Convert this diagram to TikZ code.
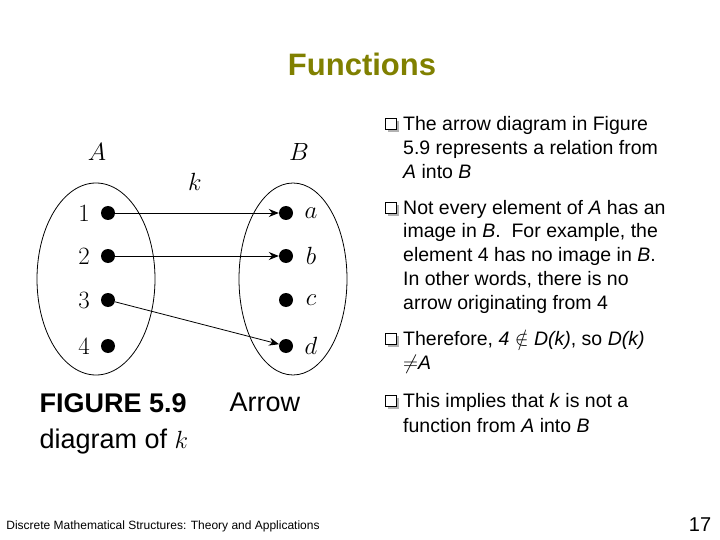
\documentclass[tikz,border=0pt]{standalone}
\usepackage{fontspec}
\usepackage{amssymb}
\setsansfont{Liberation Sans}
\usetikzlibrary{arrows.meta}
\definecolor{olive}{RGB}{128,128,0}
\begin{document}
\begin{tikzpicture}[x=1pt,y=-1pt,
  dot/.style={circle,fill=black,inner sep=0pt,minimum size=14pt},
  lab/.style={font=\fontsize{26}{28}\selectfont},
  txt/.style={anchor=west,inner sep=0pt,font=\sffamily\fontsize{19.5}{22}\selectfont},
  conn/.style={-{Stealth[length=10pt,width=8pt]},thick}]
\useasboundingbox (0,0) rectangle (720,540);
\node[font=\sffamily\bfseries\fontsize{31}{33}\selectfont,text=olive] (title) at (362,64) {Functions};
% figure
\draw[thick] (96,279) ellipse (59 and 96);
\draw[thick] (293,279) ellipse (54 and 96);
\node[lab] (lA) at (97,152) {$A$};
\node[lab] (lB) at (299,152) {$B$};
\node[lab] (lk) at (195,182) {$k$};
\foreach \i/\y in {1/213,2/256,3/300,4/346}{
  \node[dot] (p\i) at (108,\y) {};
  \node[lab] (n\i) at (84,\y) {$\i$};
}
\foreach \c/\y in {a/213,b/256,c/300,d/346}{
  \node[dot] (q\c) at (286,\y) {};
  \node[lab] (m\c) at (311,\y) {$\c$};
}
\draw[conn] (p1) -- (qa);
\draw[conn] (p2) -- (qb);
\draw[conn] (p3) -- (qd);
\node[font=\sffamily\bfseries\fontsize{27}{29}\selectfont,anchor=west] (cap1) at (36,403) {FIGURE 5.9};
\node[font=\sffamily\fontsize{27}{29}\selectfont,anchor=west] (cap2) at (226,402) {Arrow};
\node[font=\sffamily\fontsize{27}{29}\selectfont,anchor=west] (cap3) at (36,442) {diagram of $k$};
% bullets
\foreach \y in {125,209,340,402}{
  \fill[gray!60] (388,\y-4) rectangle (399,\y+7);
  \draw[fill=white,line width=0.6pt] (385,\y-7) rectangle (396,\y+4);
}
\node[txt] (t1) at (403,125) {The arrow diagram in Figure};
\node[txt] (t2) at (403,149) {5.9 represents a relation from};
\node[txt] (t3) at (403,172) {\textit{A} into \textit{B}};
\node[txt] (t4) at (403,209) {Not every element of \textit{A} has an};
\node[txt] (t5) at (403,232) {image in \textit{B}.\ \ For example, the};
\node[txt] (t6) at (403,256) {element 4 has no image in \textit{B}.};
\node[txt] (t7) at (403,280) {In other words, there is no};
\node[txt] (t8) at (403,304) {arrow originating from 4};
\node[txt] (t9) at (403,340) {Therefore, \textit{4} $\notin$ \textit{D(k)}, so \textit{D(k)}};
\node[txt] (t10) at (403,364) {$\neq$\textit{A}};
\node[txt] (t11) at (403,402) {This implies that \textit{k} is not a};
\node[txt] (t12) at (403,426) {function from \textit{A} into \textit{B}};
\node[font=\sffamily\fontsize{12}{13}\selectfont] (foot) at (163,526) {Discrete Mathematical Structures: Theory and Applications};
\node[font=\sffamily\fontsize{20}{21}\selectfont] (pg) at (700,525) {17};
\end{tikzpicture}
\end{document}
